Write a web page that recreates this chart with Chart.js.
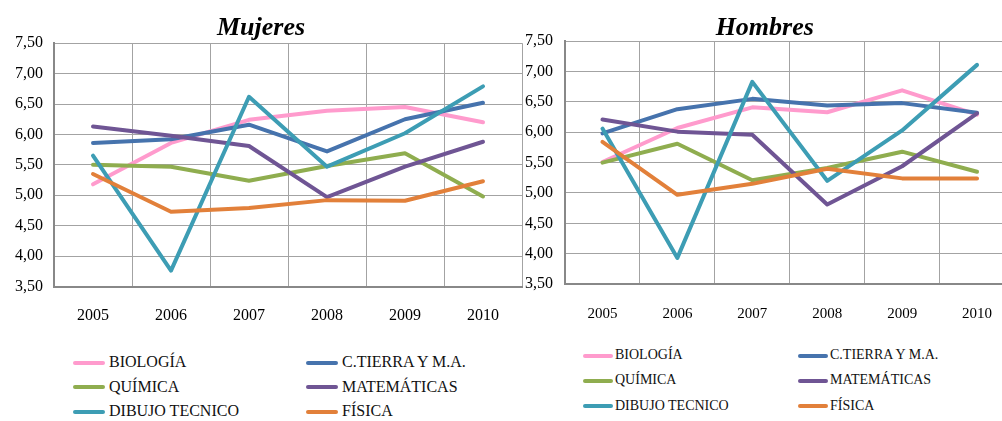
<!DOCTYPE html>
<html>
<head>
<meta charset="utf-8">
<script src="https://cdn.jsdelivr.net/npm/chart.js@4.4.0/dist/chart.umd.min.js"></script>
<style>
  html, body { margin: 0; padding: 0; background: #fff; }
  body { width: 1002px; height: 421px; overflow: hidden; position: relative; font-family: 'Liberation Serif', serif; }
  .box { position: absolute; top: 0; }
  .leg { position: absolute; white-space: nowrap; color: #111; line-height: 1; }
  .leg span.ln { position: absolute; height: 4px; border-radius: 2px; }
</style>
</head>
<body>
<div class="box" style="left:0;width:530px;height:330px"><canvas id="mujeres" width="530" height="330"></canvas></div>
<div class="box" style="left:515px;width:515px;height:330px"><canvas id="hombres" width="515" height="330"></canvas></div>
<div id="legends"></div>
<script>
// categories and series
const years = ['2005', '2006', '2007', '2008', '2009', '2010'];
const subjects = ['BIOLOGÍA', 'C.TIERRA Y M.A.', 'QUÍMICA', 'MATEMÁTICAS', 'DIBUJO TECNICO', 'FÍSICA'];
const colors = ['#ff9bcd', '#4673ad', '#8fad4f', '#6f5594', '#3d9db4', '#e2803a'];

// Mujeres
const mujBiologia = [5.18, 5.86, 6.24, 6.39, 6.45, 6.20];
const mujTierra   = [5.86, 5.92, 6.16, 5.72, 6.25, 6.52];
const mujQuimica  = [5.50, 5.47, 5.24, 5.48, 5.69, 4.98];
const mujMates    = [6.13, 5.98, 5.81, 4.97, 5.47, 5.88];
const mujDibujo   = [5.65, 3.76, 6.62, 5.47, 6.02, 6.79];
const mujFisica   = [5.35, 4.73, 4.79, 4.92, 4.91, 5.23];

// Hombres
const homBiologia = [5.51, 6.07, 6.41, 6.33, 6.69, 6.29];
const homTierra   = [5.98, 6.38, 6.55, 6.44, 6.48, 6.32];
const homQuimica  = [5.50, 5.81, 5.21, 5.41, 5.68, 5.35];
const homMates    = [6.21, 6.01, 5.96, 4.81, 5.44, 6.31];
const homDibujo   = [6.06, 3.93, 6.83, 5.20, 6.03, 7.11];
const homFisica   = [5.84, 4.97, 5.15, 5.40, 5.24, 5.24];

// y axis ticks
const yMin = 3.5, yMax = 7.5, yStep = 0.5;

const serif = "'Liberation Serif', serif";

function makeChart(id, title, series, opt) {
    const datasets = series.map((vals, i) => ({
        label: subjects[i],
        data: vals,
        borderColor: colors[i],
        backgroundColor: colors[i],
        borderWidth: 4,
        pointRadius: 0,
        tension: 0,
        borderJoinStyle: 'round',
        borderCapStyle: 'round',
        order: series.length - i   // later series drawn on top, like Excel
    }));

    return new Chart(document.getElementById(id), {
        type: 'line',
        data: { labels: years, datasets: datasets },
        options: {
            responsive: false,
            animation: false,
            devicePixelRatio: 1,
            layout: { padding: { left: 0, right: opt.padRight, top: 0, bottom: 0 } },
            plugins: {
                legend: { display: false },
                tooltip: { enabled: false },
                title: {
                    display: true,
                    text: title,
                    color: '#000',
                    font: { family: serif, size: 26, style: 'italic', weight: 'bold' },
                    padding: { top: opt.titleTop, bottom: opt.titleBottom }
                }
            },
            scales: {
                x: {
                    offset: true,
                    grid: { color: '#a3a3a3', lineWidth: 1, drawTicks: false, offset: true },
                    border: { color: '#888', width: 2 },
                    ticks: { color: '#000', font: { family: serif, size: opt.xFont }, padding: opt.xPad, maxRotation: 0 },
                    afterFit: s => { s.height = opt.xHeight; }
                },
                y: {
                    min: yMin,
                    max: yMax,
                    grid: { color: '#a3a3a3', lineWidth: 1, drawTicks: false },
                    border: { color: '#888', width: 2 },
                    ticks: {
                        stepSize: yStep,
                        color: '#000',
                        font: { family: serif, size: 16 },
                        padding: opt.yPad,
                        callback: v => v.toFixed(2).replace('.', ',')
                    },
                    afterFit: s => { s.width = opt.yWidth; }
                }
            }
        }
    });
}

makeChart('mujeres', 'Mujeres',
    [mujBiologia, mujTierra, mujQuimica, mujMates, mujDibujo, mujFisica],
    { padRight: 8, titleTop: 13, titleBottom: -1, xHeight: 43.5, xPad: 20, xFont: 16, yWidth: 54, yPad: 11 });

makeChart('hombres', 'Hombres',
    [homBiologia, homTierra, homQuimica, homMates, homDibujo, homFisica],
    { padRight: 15.5, titleTop: 13, titleBottom: -3, xHeight: 46, xPad: 21, xFont: 15, yWidth: 50, yPad: 12 });

// HTML legends, two columns of three rows
function buildLegend(cfg) {
    const host = document.getElementById('legends');
    subjects.forEach((name, i) => {
        const col = i % 2, row = Math.floor(i / 2);
        const el = document.createElement('div');
        el.className = 'leg';
        el.style.left = cfg.textX[col] + 'px';
        el.style.top = (cfg.rowY[row] - cfg.font * 0.55) + 'px';
        el.style.fontSize = cfg.font + 'px';
        const ln = document.createElement('span');
        ln.className = 'ln';
        ln.style.background = colors[i];
        ln.style.width = cfg.lineW + 'px';
        ln.style.left = -(cfg.lineW + cfg.gap) + 'px';
        ln.style.top = (cfg.font * 0.55 - 2) + 'px';
        el.appendChild(ln);
        el.appendChild(document.createTextNode(name));
        host.appendChild(el);
    });
}

buildLegend({ textX: [109, 342], rowY: [363, 387.5, 412], font: 16, lineW: 32, gap: 4 });
buildLegend({ textX: [615, 830], rowY: [356, 381, 406.5], font: 14, lineW: 30, gap: 2 });
</script>
</body>
</html>
